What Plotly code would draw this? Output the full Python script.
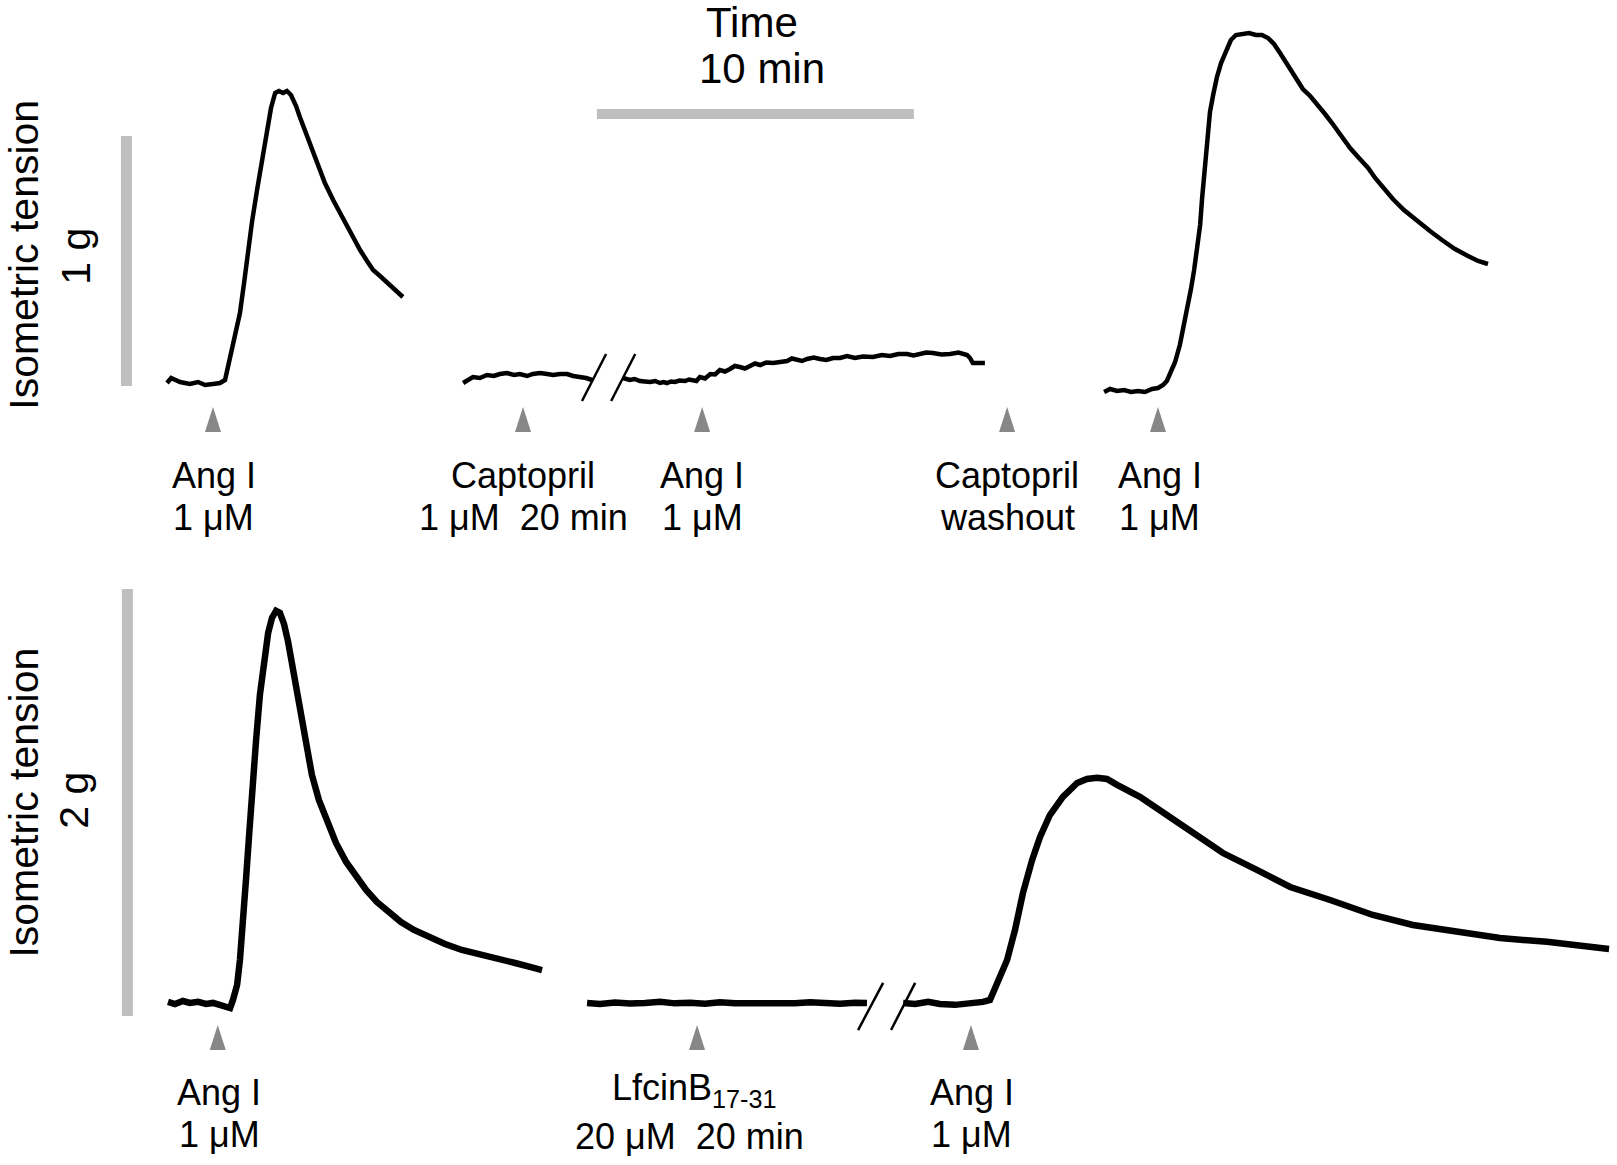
import plotly.graph_objects as go

# ---------------- data (time in min, tension in g) ----------------
# Top panel: Ang I -> Captopril -> Ang I -> washout -> Ang I
top_ctrl_t = [-1.45, -1.32, -1.04, -0.73, -0.47, -0.25, 0.00, 0.22, 0.38, 0.54, 0.69, 0.85, 0.98, 1.10,
              1.23, 1.39, 1.55, 1.70, 1.83, 1.96, 2.08, 2.21, 2.33, 2.46, 2.62, 2.74, 2.93, 3.12, 3.31,
              3.53, 3.79, 4.07, 4.35, 4.64, 4.86, 5.05, 5.27, 5.49, 5.74, 5.99]
top_ctrl_g = [0.012, 0.032, 0.016, 0.008, 0.016, 0.004, 0.008, 0.012, 0.024, 0.112, 0.200, 0.292, 0.412,
              0.532, 0.656, 0.784, 0.912, 1.024, 1.112, 1.172, 1.180, 1.172, 1.180, 1.164, 1.120, 1.076,
              1.012, 0.944, 0.880, 0.812, 0.744, 0.676, 0.608, 0.544, 0.500, 0.464, 0.440, 0.416, 0.388,
              0.356]

top_capto_a_t = [7.89, 8.04, 8.20, 8.42, 8.64, 8.86, 9.05, 9.27, 9.50, 9.68, 9.91, 10.09, 10.32, 10.54,
                 10.73, 10.95, 11.17, 11.36, 11.58, 11.77, 11.96]
top_capto_a_g = [0.012, 0.024, 0.036, 0.032, 0.044, 0.040, 0.048, 0.052, 0.044, 0.048, 0.040, 0.048,
                 0.052, 0.048, 0.044, 0.048, 0.048, 0.040, 0.036, 0.032, 0.024]

top_capto_b_t = [12.93, 13.05, 13.15, 13.30, 13.47, 13.62, 13.79, 13.95, 14.10, 14.22, 14.32, 14.45,
                 14.57, 14.72, 14.89, 15.02, 15.14, 15.25, 15.36, 15.52, 15.69, 15.84, 15.99, 16.15,
                 16.31, 16.46, 16.62, 16.78, 16.94, 17.10, 17.26, 17.46, 17.67, 17.89, 18.11, 18.26,
                 18.42, 18.58, 18.74, 18.95, 19.15, 19.35, 19.56, 19.78, 20.00, 20.25, 20.50, 20.82,
                 21.10, 21.36, 21.62, 21.89, 22.10, 22.30, 22.50, 22.71, 22.98, 23.25, 23.52, 23.79,
                 23.88, 23.97, 24.15, 24.35]
top_capto_b_g = [0.032, 0.026, 0.024, 0.028, 0.020, 0.018, 0.016, 0.020, 0.012, 0.016, 0.012, 0.018,
                 0.016, 0.022, 0.020, 0.026, 0.024, 0.020, 0.036, 0.030, 0.048, 0.046, 0.064, 0.058,
                 0.068, 0.080, 0.076, 0.070, 0.080, 0.090, 0.084, 0.094, 0.092, 0.098, 0.100, 0.110,
                 0.104, 0.100, 0.108, 0.114, 0.108, 0.104, 0.112, 0.112, 0.120, 0.112, 0.118, 0.116,
                 0.124, 0.120, 0.128, 0.128, 0.122, 0.128, 0.134, 0.132, 0.126, 0.128, 0.134, 0.124,
                 0.112, 0.092, 0.094, 0.092]

top_wash_t = [28.11, 28.30, 28.52, 28.74, 28.96, 29.18, 29.40, 29.62, 29.81, 29.97, 30.09, 30.22, 30.35,
              30.50, 30.63, 30.76, 30.85, 30.95, 31.04, 31.14, 31.20, 31.26, 31.32, 31.39, 31.45, 31.55,
              31.67, 31.80, 31.96, 32.11, 32.27, 32.46, 32.68, 32.90, 33.09, 33.28, 33.47, 33.66, 33.94,
              34.16, 34.38, 34.61, 34.86, 35.08, 35.30, 35.58, 35.87, 36.15, 36.44, 36.66, 36.91, 37.22,
              37.57, 37.95, 38.39, 38.77, 39.18, 39.59, 39.91, 40.22]
top_wash_g = [-0.024, -0.012, -0.020, -0.016, -0.024, -0.020, -0.024, -0.012, -0.008, 0.004, 0.020,
              0.056, 0.096, 0.164, 0.244, 0.324, 0.388, 0.464, 0.544, 0.644, 0.748, 0.844, 0.936, 1.024,
              1.096, 1.164, 1.236, 1.292, 1.344, 1.384, 1.404, 1.408, 1.412, 1.404, 1.404, 1.392, 1.368,
              1.332, 1.276, 1.232, 1.188, 1.160, 1.124, 1.088, 1.052, 1.004, 0.952, 0.912, 0.872, 0.832,
              0.792, 0.748, 0.704, 0.664, 0.620, 0.584, 0.548, 0.520, 0.500, 0.488]

# Bottom panel: Ang I -> LfcinB17-31 -> Ang I
bot_ctrl_t = [-1.42, -1.20, -0.95, -0.73, -0.47, -0.22, 0.00, 0.22, 0.41, 0.54, 0.63, 0.76, 0.85, 0.95,
              1.04, 1.14, 1.23, 1.36, 1.48, 1.61, 1.74, 1.86, 1.99, 2.11, 2.24, 2.37, 2.49, 2.62, 2.78,
              2.93, 3.12, 3.34, 3.60, 3.88, 4.20, 4.51, 4.83, 5.17, 5.55, 5.93, 6.34, 6.78, 7.32, 7.85,
              8.42, 8.99, 9.53, 10.00, 10.38]
bot_ctrl_g = [0.066, 0.056, 0.070, 0.061, 0.066, 0.056, 0.061, 0.052, 0.047, 0.037, 0.075, 0.145, 0.262,
              0.426, 0.637, 0.848, 1.059, 1.293, 1.504, 1.667, 1.794, 1.864, 1.897, 1.888, 1.836, 1.752,
              1.649, 1.527, 1.386, 1.255, 1.129, 1.012, 0.909, 0.810, 0.721, 0.651, 0.590, 0.534, 0.482,
              0.440, 0.403, 0.370, 0.337, 0.309, 0.286, 0.262, 0.248, 0.230, 0.215]

bot_lfc_a_t = [11.80, 12.21, 12.68, 13.15, 13.63, 14.10, 14.57, 15.05, 15.52, 15.99, 16.47, 16.94, 17.41,
               17.89, 18.36, 18.83, 19.31, 19.78, 20.25, 20.63]
bot_lfc_a_g = [0.061, 0.056, 0.063, 0.058, 0.061, 0.066, 0.059, 0.062, 0.057, 0.064, 0.060, 0.058, 0.063,
               0.061, 0.059, 0.064, 0.060, 0.057, 0.062, 0.061]

bot_lfc_b_t = [21.77, 22.15, 22.56, 22.93, 23.41, 23.72, 24.04, 24.29, 24.51, 24.76, 25.05, 25.30, 25.55,
               25.84, 26.09, 26.40, 26.81, 27.26, 27.57, 27.89, 28.20, 28.52, 29.24, 30.09, 30.91, 31.86,
               32.93, 33.98, 35.24, 36.59, 37.85, 39.34, 40.60, 42.08, 43.06, 44.04]
bot_lfc_b_g = [0.061, 0.056, 0.066, 0.056, 0.052, 0.056, 0.061, 0.066, 0.075, 0.155, 0.262, 0.403, 0.576,
               0.731, 0.838, 0.941, 1.026, 1.091, 1.110, 1.115, 1.110, 1.082, 1.026, 0.941, 0.857, 0.763,
               0.684, 0.604, 0.543, 0.473, 0.426, 0.389, 0.365, 0.347, 0.333, 0.314]

# axis breaks (time of the cut, tension span of the slash)
top_break_t = [11.64, 12.40, 12.56, 13.32]
top_break_g = [-0.06, 0.128]
bot_break_t = [20.35, 21.14, 21.39, 22.15]
bot_break_g = [-0.066, 0.155]

# drug additions (min)
top_events_t = [0.00, 9.78, 15.43, 25.05, 29.81]
top_events_l1 = ["Ang I", "Captopril", "Ang I", "Captopril", "Ang I"]
top_events_l2 = ["1 μM", "1 μM\u00a0\u00a020 min", "1 μM", "washout", "1 μM"]
bot_events_t = [0.15, 15.27, 23.91]
bot_events_l1 = ["Ang I", "LfcinB<sub>17-31</sub>", "Ang I"]
bot_events_l2 = ["1 μM", "20 μM\u00a0\u00a020 min", "1 μM"]

# scale bars
time_bar_len = 10          # min
top_bar_g = 1              # g
bot_bar_g = 2              # g

# ---------------- layout helpers (positions / styles) ----------------
X_RANGE = [-6.719, 44.290]
TOP_Y = [-0.786, 1.544]
BOT_Y = [-0.698, 2.030]
FONT = "Arial, 'Liberation Sans', sans-serif"
GREY_BAR = "#bfbfbf"
GREY_ARROW = "#878787"

fig = go.Figure()


def line(t, g, ax, width, color="black"):
    xa, ya = ("x", "y") if ax == 1 else ("x2", "y2")
    fig.add_trace(go.Scatter(x=t, y=g, mode="lines", xaxis=xa, yaxis=ya,
                             line=dict(color=color, width=width), hoverinfo="skip"))


# traces
for t, g in [(top_ctrl_t, top_ctrl_g), (top_capto_a_t, top_capto_a_g),
             (top_capto_b_t, top_capto_b_g), (top_wash_t, top_wash_g)]:
    line(t, g, 1, 4.5)
for t, g in [(bot_ctrl_t, bot_ctrl_g), (bot_lfc_a_t, bot_lfc_a_g), (bot_lfc_b_t, bot_lfc_b_g)]:
    line(t, g, 2, 6.5)

# break slashes
line(top_break_t[0:2], top_break_g, 1, 2.5)
line(top_break_t[2:4], top_break_g, 1, 2.5)
line(bot_break_t[0:2], bot_break_g, 2, 2.5)
line(bot_break_t[2:4], bot_break_g, 2, 2.5)

# scale bars
tb0 = 12.11
line([tb0, tb0 + time_bar_len], [1.088, 1.088], 1, 10, GREY_BAR)
line([-2.73, -2.73], [0, top_bar_g], 1, 11, GREY_BAR)
line([-2.70, -2.70], [0, bot_bar_g], 2, 11, GREY_BAR)

# arrows (triangles)
shapes = []
for t in top_events_t:
    shapes.append(dict(type="path", xref="x", yref="y", xsizemode="pixel", ysizemode="pixel",
                       xanchor=t, yanchor=-0.184, path="M-8,0 L8,0 L0,25 Z",
                       fillcolor=GREY_ARROW, line=dict(width=0)))
for t in bot_events_t:
    shapes.append(dict(type="path", xref="x2", yref="y2", xsizemode="pixel", ysizemode="pixel",
                       xanchor=t, yanchor=-0.159, path="M-8,0 L8,0 L0,25 Z",
                       fillcolor=GREY_ARROW, line=dict(width=0)))

ann = []


def text(s, x, y, ax, size=36, angle=0):
    xr, yr = ("x", "y") if ax == 1 else ("x2", "y2")
    ann.append(dict(text=s, x=x, y=y, xref=xr, yref=yr, showarrow=False, xanchor="center",
                    yanchor="middle", textangle=angle, font=dict(family=FONT, size=size, color="black")))


top_dx = [0.03, 0.0, 0.0, 0.0, 0.05]
for t, l1, l2, dx in zip(top_events_t, top_events_l1, top_events_l2, top_dx):
    text(l1, t + dx, -0.358, 1)
    text(l2, t + dx, -0.526, 1)
bot_dx1 = [0.05, -0.10, 0.03]
bot_dx2 = [0.05, -0.24, 0.03]
bot_dy1 = [-0.358, -0.347, -0.358]
bot_dy2 = [-0.555, -0.564, -0.555]
for t, l1, l2, dx1, dx2, dy1, dy2 in zip(bot_events_t, bot_events_l1, bot_events_l2,
                                         bot_dx1, bot_dx2, bot_dy1, bot_dy2):
    text(l1, t + dx1, dy1, 2)
    text(l2, t + dx2, dy2, 2)

text("Time", 17.00, 1.454, 1, size=42)
text(f"{time_bar_len} min", 17.32, 1.270, 1, size=42)
text("Isometric tension", -5.97, 0.524, 1, size=41, angle=-90)
text(f"{top_bar_g} g", -4.33, 0.520, 1, size=41, angle=-90)
text("Isometric tension", -5.97, 0.998, 2, size=41, angle=-90)
text(f"{bot_bar_g} g", -4.39, 1.012, 2, size=41, angle=-90)

ax_common = dict(visible=False, showgrid=False, zeroline=False, fixedrange=True)
fig.update_layout(
    width=1617, height=1165, margin=dict(l=0, r=0, t=0, b=0),
    paper_bgcolor="white", plot_bgcolor="white", showlegend=False,
    xaxis=dict(domain=[0, 1], range=X_RANGE, anchor="y", **ax_common),
    yaxis=dict(domain=[0.5, 1], range=TOP_Y, anchor="x", **ax_common),
    xaxis2=dict(domain=[0, 1], range=X_RANGE, anchor="y2", **ax_common),
    yaxis2=dict(domain=[0, 0.5], range=BOT_Y, anchor="x2", **ax_common),
    shapes=shapes, annotations=ann,
)

fig.write_html("out.html", config={"displayModeBar": False},
               post_script="document.body.style.margin='0px';document.body.style.overflow='hidden';")
